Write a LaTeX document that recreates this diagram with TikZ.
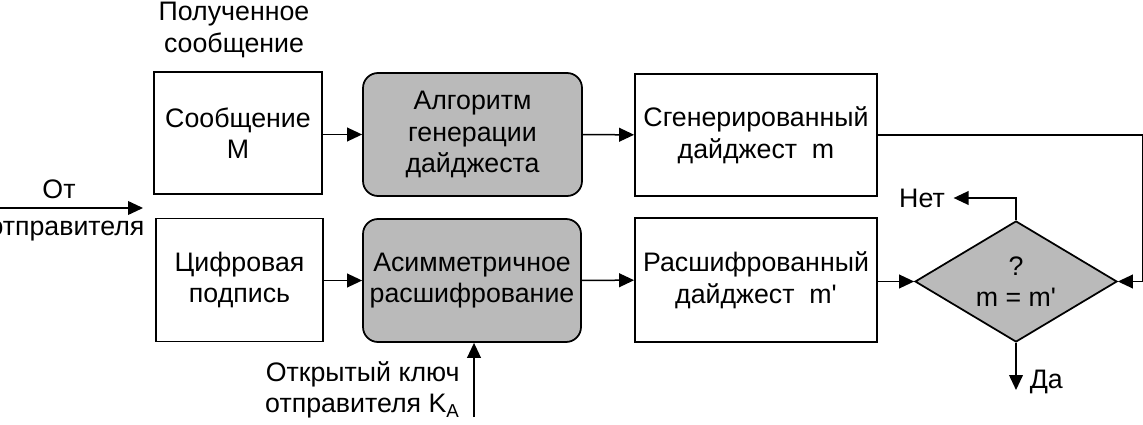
\documentclass[tikz,border=0pt]{standalone}
\usepackage{fontspec}
\setmainfont{Liberation Sans}
\usetikzlibrary{arrows.meta,positioning,shapes.geometric,calc}
\tikzset{
block/.style={draw, line width=0.7pt, rectangle, align=center, inner sep=0pt},
grayBlock/.style={block, fill=black!27, rounded corners=6pt},
decision/.style={draw, line width=0.7pt, diamond, fill=black!27, aspect=1.67, inner sep=0pt, align=center},
invisiblePoint/.style={circle,inner sep=0pt,outer sep=0pt,minimum size=0pt},
arr/.style={-{Triangle[length=6pt,width=5.5pt]}, line width=0.6pt},
}
\tikzstyle{every node}=[font=\fontsize{10.7}{12.6}\selectfont]

\begin{document}
\begin{tikzpicture}[x=0.4pt, y=-0.4pt]
        \useasboundingbox (0,0) rectangle (1143,425);

        % upper row
        \node[block, minimum width=168*0.4pt, minimum height=122*0.4pt] (msg) at (238,133) {Сообщение\\М};
        \node[grayBlock, minimum width=219*0.4pt, minimum height=123*0.4pt] (alg) at (472.5,134.5) {Алгоритм\\генерации\\дайджеста};
        \node[block, minimum width=242*0.4pt, minimum height=122*0.4pt] (gen) at (756,135) {Сгенерированный\\дайджест\ \ m};
        \node[align=center] (title) at (234,30) {Полученное\\сообщение};

        % lower row
        \node[block, minimum width=167*0.4pt, minimum height=123*0.4pt] (sig) at (239.5,280) {Цифровая\\подпись};
        \node[grayBlock, minimum width=218*0.4pt, minimum height=123*0.4pt] (dec) at (472,280.5) {Асимметричное\\расшифрование};
        \node[block, minimum width=242*0.4pt, minimum height=124*0.4pt] (rdec) at (756,280) {Расшифрованный\\дайджест\ \ m\textquotesingle};
        \node[decision, minimum width=202*0.4pt, minimum height=121*0.4pt] (cmp) at (1016,281.5) {?\\m = m\textquotesingle};

        % input from sender
        \coordinate (src) at (-10,208);
        \coordinate (in) at (143,208);
        \draw[arr] (src) -- (in)
            node[midway, above, xshift=-3pt] {От}
            node[midway, below, yshift=-1.5pt] {отправителя};

        % public key
        \coordinate (key) at (474,417);
        \draw[arr] (key) -- (key |- dec.south);
        \node[align=center, anchor=east] (keylbl) at (469,390) {Открытый ключ\\отправителя K\textsubscript{A}};

        % flow
        \draw[arr] (msg.east |- alg.west) -- (alg.west);
        \draw[arr] (alg) -- (gen);
        \draw[arr] (sig.east |- dec.west) -- (dec.west);
        \draw[arr] (dec) -- (rdec);
        \draw[arr] (rdec.east |- cmp.west) -- (cmp.west);
        \draw[arr] (gen.east) -- ++(265,0) |- (cmp.east);

        % outcome
        \node (no) at (922,198) {Нет};
        \draw[arr] (cmp.north) |- (no.east);
        \coordinate (yes) at (1016,390);
        \node[anchor=west] (yeslbl) at (1021,382) {Да};
        \draw[arr] (cmp.south) -- (yes);
\end{tikzpicture}
\end{document}
